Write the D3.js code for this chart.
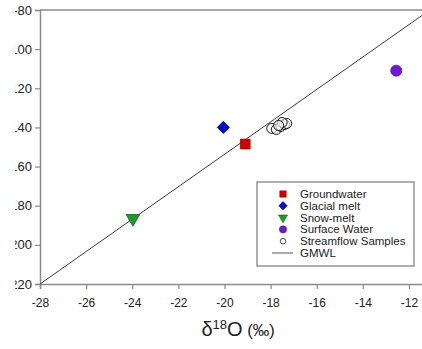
<!DOCTYPE html>
<html lang="en">
    <head>
        <meta charset="utf-8">
        <title>d18O vs dD</title>
        <script src="https://d3js.org/d3.v7.min.js"></script>
        <style type="text/css">
            body{
                margin: 0;
                background: white;
            }
            text{
                font-family: "Liberation Sans", Arial, sans-serif;
                fill: #222;
            }
        </style>
    </head>
    <body>
        <svg width="422" height="349"></svg>
        <script type="text/javascript">

            // values (x = d18O, y = dD)
            const groundwaterX = [-19.1];
            const groundwaterY = [-148.5];
            const glacialX = [-20.05];
            const glacialY = [-140];
            const snowX = [-23.97];
            const snowY = [-186.5];
            const surfaceX = [-12.55];
            const surfaceY = [-111];
            const streamX = [-17.95, -17.75, -17.55, -17.4, -17.3, -17.5, -17.65];
            const streamY = [-140.5, -141, -139.5, -138.5, -138, -137.5, -139];
            const gmwlX = [-28, -11.1];
            const gmwlY = [-220, -80];

            const xTicks = [-28, -26, -24, -22, -20, -18, -16, -14, -12];
            const yTicks = [-80, -100, -120, -140, -160, -180, -200, -220];
            const legendNames = ["Groundwater", "Glacial melt", "Snow-melt", "Surface Water", "Streamflow Samples", "GMWL"];

            const svg = d3.select("svg");
            const mLeft = 40, mTop = 10, mBottom = 284;

            const x = d3.scaleLinear().domain([-28, -10]).range([mLeft, mLeft + 18 * 23.06]);
            const y = d3.scaleLinear().domain([-220, -80]).range([mBottom, mTop]);

            const axisColor = "#8a8a8a";

            //top frame
            svg.append("line")
               .attr("x1", x(-28)).attr("x2", x(-10))
               .attr("y1", y(-80)).attr("y2", y(-80))
               .style("stroke", axisColor).style("stroke-width", 1.5);

            // the reference is cropped on the left, so the y labels are cut
            svg.append("clipPath").attr("id", "ycut")
               .append("rect").attr("x", 15.2).attr("y", 0).attr("width", 60).attr("height", 349);

            const yAxis = svg.append("g")
                             .attr("transform", `translate(${mLeft},0)`)
                             .call(d3.axisLeft(y).tickValues(yTicks).tickSize(5).tickFormat(""));
            const xAxis = svg.append("g")
                             .attr("transform", `translate(0,${mBottom})`)
                             .call(d3.axisBottom(x).tickValues(xTicks).tickSize(5).tickPadding(9).tickFormat(d => String(d)));

            [yAxis, xAxis].forEach(a => {
                a.select(".domain").style("stroke", axisColor).style("stroke-width", 1.5);
                a.selectAll(".tick line").style("stroke", axisColor).style("stroke-width", 1.2);
                a.selectAll("text").style("font-size", "12px").style("fill", "#222")
                 .style("font-family", "'Liberation Sans', Arial, sans-serif");
            });

            const yLabels = svg.append("g").attr("clip-path", "url(#ycut)");
            yLabels.selectAll("text")
                   .data(yTicks)
                   .enter()
                   .append("text")
                   .attr("x", mLeft - 8)
                   .attr("y", d => y(d))
                   .attr("dy", "0.35em")
                   .attr("text-anchor", "end")
                   .style("font-size", "13px")
                   .text(d => String(d));

            // GMWL line
            const gmwl = gmwlX.map((v, i) => [v, gmwlY[i]]);
            svg.append("path")
               .datum(gmwl)
               .attr("d", d3.line().x(d => x(d[0])).y(d => y(d[1])))
               .style("fill", "none")
               .style("stroke", "#3a3a3a")
               .style("stroke-width", 1);

            // streamflow samples (open circles)
            svg.selectAll(".stream")
               .data(streamX.map((v, i) => [v, streamY[i]]))
               .enter()
               .append("circle")
               .attr("class", "stream")
               .attr("cx", d => x(d[0]))
               .attr("cy", d => y(d[1]))
               .attr("r", 5)
               .style("fill", "white")
               .style("fill-opacity", 0.6)
               .style("stroke", "#111")
               .style("stroke-width", 1);

            const sym = {
                square: d3.symbol().type(d3.symbolSquare).size(95),
                diamond: d3.symbol().type(d3.symbolDiamond2).size(95),
                triangle: d3.symbol().type(d3.symbolTriangle).size(80),
                circle: d3.symbol().type(d3.symbolCircle).size(95)
            };

            const series = [
                {xs: groundwaterX, ys: groundwaterY, shape: "square", fill: "#d40000", stroke: "#8a0000", rot: 0},
                {xs: glacialX, ys: glacialY, shape: "diamond", fill: "#0010c8", stroke: "#00087a", rot: 0},
                {xs: snowX, ys: snowY, shape: "triangle", fill: "#1f9a28", stroke: "#10601a", rot: 180},
                {xs: surfaceX, ys: surfaceY, shape: "circle", fill: "#7418d8", stroke: "#4a0a96", rot: 0}
            ];

            series.forEach(s => {
                svg.selectAll(null)
                   .data(s.xs.map((v, i) => [v, s.ys[i]]))
                   .enter()
                   .append("path")
                   .attr("d", sym[s.shape])
                   .attr("transform", d => `translate(${x(d[0])},${y(d[1])}) rotate(${s.rot})`)
                   .style("fill", s.fill)
                   .style("stroke", s.stroke)
                   .style("stroke-width", 0.8);
            });

            // legend
            const lg = svg.append("g").attr("transform", "translate(257,182)");
            lg.append("rect")
              .attr("width", 157).attr("height", 84)
              .style("fill", "white")
              .style("stroke", "#7a7a7a")
              .style("stroke-width", 1.2);

            const small = {
                square: d3.symbol().type(d3.symbolSquare).size(40),
                diamond: d3.symbol().type(d3.symbolDiamond2).size(45),
                triangle: d3.symbol().type(d3.symbolTriangle).size(35),
                circle: d3.symbol().type(d3.symbolCircle).size(40)
            };

            legendNames.forEach((name, i) => {
                const cy = 12 + i * 11.8;
                if (i < 4) {
                    const s = series[i];
                    lg.append("path")
                      .attr("d", small[s.shape])
                      .attr("transform", `translate(26,${cy}) rotate(${s.rot})`)
                      .style("fill", s.fill)
                      .style("stroke", s.stroke)
                      .style("stroke-width", 0.6);
                } else if (i === 4) {
                    lg.append("circle")
                      .attr("cx", 26).attr("cy", cy).attr("r", 2.8)
                      .style("fill", "white").style("stroke", "#222").style("stroke-width", 0.8);
                } else {
                    lg.append("line")
                      .attr("x1", 15).attr("x2", 36)
                      .attr("y1", cy).attr("y2", cy)
                      .style("stroke", "#555").style("stroke-width", 1);
                }
                lg.append("text")
                  .attr("x", 43)
                  .attr("y", cy)
                  .attr("dy", "0.35em")
                  .style("font-size", "11.5px")
                  .text(name);
            });

            // x axis title
            const title = svg.append("text")
                             .attr("x", 238)
                             .attr("y", 336)
                             .attr("text-anchor", "middle");
            title.append("tspan").style("font-size", "20px").text("δ");
            title.append("tspan").style("font-size", "13px").attr("dy", -7).text("18");
            title.append("tspan").style("font-size", "20px").attr("dy", 7).text("O");
            title.append("tspan").style("font-size", "16.5px").text(" (‰)");

        </script>
    </body>
</html>
